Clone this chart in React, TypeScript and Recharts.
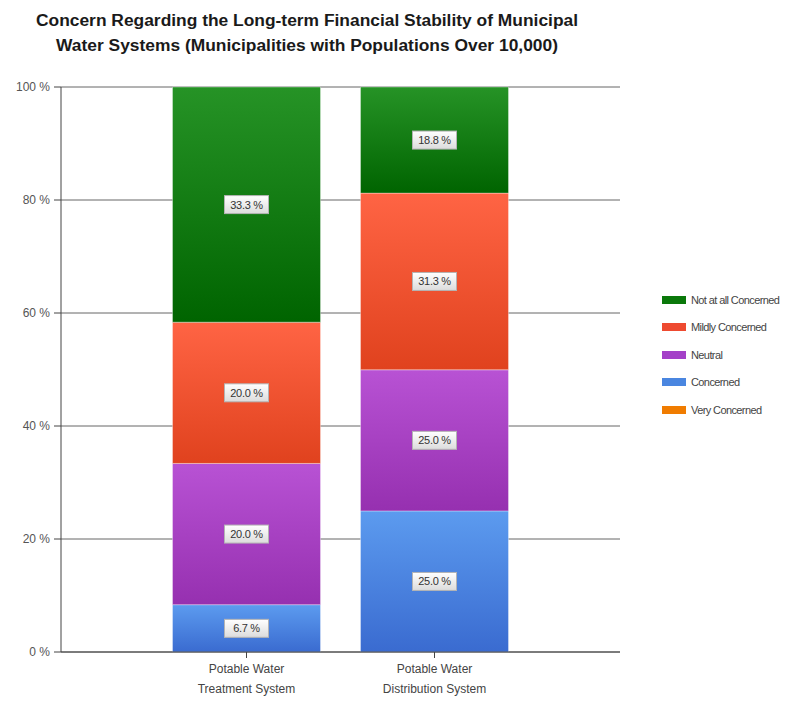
import { BarChart, Bar, XAxis, YAxis, CartesianGrid, LabelList } from 'recharts';

const categories = ['Potable Water Treatment System', 'Potable Water Distribution System'];
const veryConcerned = [0, 0];
const concerned = [6.7, 25.0];
const neutral = [20.0, 25.0];
const mildlyConcerned = [20.0, 31.3];
const notAtAllConcerned = [33.3, 18.8];
const yTicks = [0, 0.2, 0.4, 0.6, 0.8, 1];

// bottom of the stack first
const series = [
  { key: 'veryConcerned', name: 'Very Concerned', values: veryConcerned, top: '#ff9020', bottom: '#e06a00', swatch: '#f07c00' },
  { key: 'concerned', name: 'Concerned', values: concerned, top: '#5c9bef', bottom: '#3a6bd0', swatch: '#4a86e0' },
  { key: 'neutral', name: 'Neutral', values: neutral, top: '#b852d4', bottom: '#9630b0', swatch: '#a440c8' },
  { key: 'mildlyConcerned', name: 'Mildly Concerned', values: mildlyConcerned, top: '#ff6444', bottom: '#e0421e', swatch: '#ee4a30' },
  { key: 'notAtAllConcerned', name: 'Not at all Concerned', values: notAtAllConcerned, top: '#269326', bottom: '#006400', swatch: '#0a780a' },
];

const data = categories.map((category, i) => {
  const row: Record<string, string | number> = { category };
  series.forEach((s) => {
    row[s.key] = s.values[i];
  });
  return row;
});

const font = '"Liberation Sans", Arial, sans-serif';

const makeLabel = (values: number[]) => (props: any) => {
  const box = props.viewBox && props.viewBox.width != null ? props.viewBox : props;
  const { x, y, width, height } = box;
  const v = values[props.index];
  if (!v) return null;
  const cx = x + width / 2;
  const cy = y + height / 2;
  return (
    <g>
      <rect x={cx - 22} y={cy - 9} width={44} height={18} fill="url(#labelBg)" stroke="#b4b4b4" />
      <text x={cx} y={cy} dy="0.36em" textAnchor="middle" fontSize={11} fill="#333" fontFamily={font} letterSpacing={-0.3}>
        {v.toFixed(1)} %
      </text>
    </g>
  );
};

const CategoryTick = (props: any) => {
  const { x, y, payload } = props;
  const words = String(payload.value).split(' ');
  return (
    <text x={x} y={y} textAnchor="middle" fontSize={12} fill="#444" fontFamily={font}>
      <tspan x={x} dy={13}>{words.slice(0, 2).join(' ')}</tspan>
      <tspan x={x} dy={20}>{words.slice(2).join(' ')}</tspan>
    </text>
  );
};

export default function App() {
  return (
    <div style={{ position: 'absolute', left: 0, top: 0, width: 801, height: 701, background: '#fff', fontFamily: font }}>
      <div
        style={{
          position: 'absolute',
          left: 0,
          width: 614,
          top: 8,
          textAlign: 'center',
          fontWeight: 'bold',
          fontSize: 17.4,
          lineHeight: '25px',
          color: '#1a1a1a',
        }}
      >
        Concern Regarding the Long-term Financial Stability of Municipal
        <br />
        Water Systems (Municipalities with Populations Over 10,000)
      </div>
      <BarChart
        width={801}
        height={701}
        data={data}
        stackOffset="expand"
        barCategoryGap={20}
        margin={{ top: 87, right: 181, bottom: 9, left: 11 }}
      >
        <defs>
          {series.map((s) => (
            <linearGradient key={s.key} id={`grad-${s.key}`} x1="0" y1="0" x2="0" y2="1">
              <stop offset="0%" stopColor={s.top} />
              <stop offset="100%" stopColor={s.bottom} />
            </linearGradient>
          ))}
          <linearGradient id="labelBg" x1="0" y1="0" x2="0" y2="1">
            <stop offset="0%" stopColor="#ffffff" />
            <stop offset="100%" stopColor="#dcdcdc" />
          </linearGradient>
        </defs>
        <CartesianGrid vertical={false} stroke="#666" />
        <XAxis
          dataKey="category"
          height={40}
          padding={{ left: 91.5, right: 91.5 }}
          axisLine={{ stroke: '#444' }}
          tickLine={{ stroke: '#444' }}
          tickSize={6}
          tick={<CategoryTick />}
          interval={0}
        />
        <YAxis
          width={50}
          domain={[0, 1]}
          ticks={yTicks}
          tickFormatter={(v: number) => `${Math.round(v * 100)} %`}
          axisLine={{ stroke: '#444' }}
          tickLine={{ stroke: '#444' }}
          tickSize={7}
          tickMargin={4}
          tick={{ fontSize: 12, fill: '#555', fontFamily: font }}
        />
        {series.map((s) => (
          <Bar
            key={s.key}
            dataKey={s.key}
            name={s.name}
            stackId="a"
            fill={`url(#grad-${s.key})`}
            stroke="rgba(255,255,255,0.35)"
            strokeWidth={1}
            isAnimationActive={false}
          >
            <LabelList dataKey={s.key} content={makeLabel(s.values)} />
          </Bar>
        ))}
      </BarChart>
      <div style={{ position: 'absolute', left: 662, top: 286 }}>
        {[...series].reverse().map((s) => (
          <div key={s.key} style={{ display: 'flex', alignItems: 'center', height: 27.5 }}>
            <div style={{ width: 24, height: 8, background: s.swatch, marginRight: 5 }} />
            <span style={{ fontSize: 11, color: '#444', letterSpacing: -0.6 }}>{s.name}</span>
          </div>
        ))}
      </div>
    </div>
  );
}
